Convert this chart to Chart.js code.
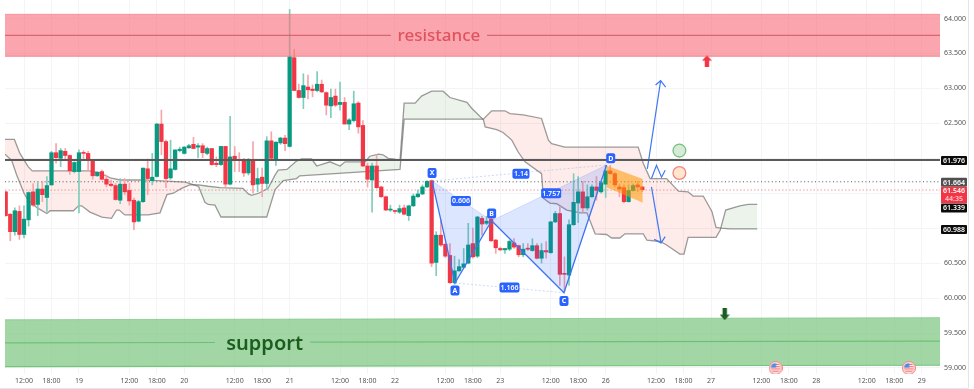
<!DOCTYPE html>
<html><head><meta charset="utf-8">
<style>html,body{margin:0;padding:0;background:#fff;overflow:hidden}#wrap{width:974px;height:389px}canvas{filter:blur(0.45px)}</style>
<script src="https://cdn.jsdelivr.net/npm/chart.js@4/dist/chart.umd.min.js"></script>
</head><body><div id="wrap"><canvas id="c" width="974" height="389"></canvas></div>
<script>
// ---------- candles (one per hour, WTI) ----------
const opens=[61.52,61.20,60.95,61.24,60.91,61.12,61.52,61.34,61.56,61.44,
61.62,62.08,62.00,62.10,62.04,61.81,61.81,62.08,62.07,61.97,
61.75,61.81,61.70,61.63,61.61,61.40,61.63,61.54,61.40,61.10,
61.38,61.85,61.68,61.74,62.49,62.24,61.72,61.84,62.11,62.07,
62.15,62.20,62.16,62.18,62.07,62.14,61.93,61.91,62.17,61.63,
62.03,61.98,61.98,61.79,61.98,61.63,61.73,61.64,62.25,61.99,
62.22,62.29,62.17,63.44,62.97,62.87,63.02,62.99,62.97,63.06,
62.94,62.75,62.89,62.77,62.80,62.49,62.54,62.79,62.47,61.89,
61.69,61.89,61.59,61.45,61.26,61.25,61.23,61.29,61.18,61.32,
61.45,61.49,61.59,61.68,60.51,60.90,60.77,60.61,60.22,60.39,
60.44,60.50,60.78,60.60,61.14,61.07,61.13,60.83,60.71,60.69,
60.70,60.79,60.75,60.62,60.71,60.68,60.75,60.57,60.68,60.65,
61.09,61.21,60.35,60.33,61.05,61.36,61.52,61.29,61.45,61.59,
61.52,61.63,61.82,61.78,61.59,61.58,61.38,61.54,61.62,61.59];
const highs=[61.53,61.21,61.29,61.32,61.32,61.52,61.64,61.67,61.67,61.74,
62.10,62.21,62.14,62.14,62.05,61.95,62.12,62.11,62.10,61.98,
61.81,61.83,61.76,61.69,61.64,61.71,61.71,61.64,61.43,61.40,
61.86,61.99,62.07,62.50,62.69,62.26,62.26,62.12,62.16,62.17,
62.20,62.30,62.21,62.21,62.16,62.14,62.02,62.17,62.17,62.60,
62.17,62.08,62.00,62.00,62.24,61.86,61.86,62.31,62.38,62.24,
62.30,62.33,64.13,63.56,63.06,63.21,63.19,63.05,63.24,63.12,
62.95,62.99,62.99,63.09,62.87,62.57,62.96,62.81,62.54,61.93,
61.93,62.05,61.60,61.46,61.33,61.26,61.33,61.33,61.33,61.49,
61.55,61.62,61.68,61.69,60.95,61.12,60.79,60.78,60.60,60.55,
60.71,61.07,61.00,61.17,61.17,61.17,61.14,60.84,60.73,60.71,
60.83,60.85,60.76,60.78,60.78,60.85,60.78,60.78,60.81,61.10,
61.24,61.31,60.59,61.12,61.78,61.74,61.67,61.62,61.62,61.74,
61.67,61.90,61.90,61.80,61.63,61.62,61.62,61.63,61.67,61.60];
const lows=[61.17,60.82,60.90,60.84,60.86,61.03,61.31,61.18,61.38,61.24,
61.61,61.93,61.88,61.98,61.77,61.79,61.22,61.98,61.83,61.70,
61.74,61.69,61.59,61.59,61.40,61.35,61.48,61.33,60.98,61.09,
61.37,61.48,61.62,61.73,62.05,61.58,61.70,61.83,62.09,62.06,
62.14,62.14,62.01,62.01,62.05,61.90,61.88,61.90,61.58,61.62,
61.81,61.81,61.74,61.76,61.50,61.52,61.45,61.55,61.98,61.90,
62.20,62.11,62.16,62.97,62.86,62.71,62.85,62.88,62.95,62.94,
62.62,62.58,62.74,62.69,62.49,62.41,62.52,62.36,61.88,61.59,
61.23,61.57,61.44,61.25,61.24,61.21,61.21,61.19,61.11,61.31,
61.44,61.48,61.58,60.45,60.32,60.74,60.58,60.21,60.20,60.38,
60.43,60.49,60.57,60.58,60.90,61.05,60.81,60.64,60.68,60.64,
60.68,60.71,60.59,60.59,60.68,60.67,60.56,60.50,60.57,60.64,
61.08,60.18,60.09,60.18,61.04,61.08,61.23,61.26,61.44,61.40,
61.50,61.44,61.77,61.59,61.45,61.36,61.37,61.53,61.52,61.52];
const closes=[61.18,60.95,61.25,60.91,61.13,61.51,61.33,61.56,61.48,61.61,
62.08,62.01,62.11,62.04,61.82,61.94,62.08,62.07,61.97,61.75,
61.80,61.70,61.63,61.61,61.41,61.63,61.52,61.39,61.09,61.38,
61.86,61.71,61.73,62.49,62.24,61.71,61.85,62.12,62.13,62.16,
62.18,62.14,62.18,62.08,62.14,61.91,61.91,62.17,61.63,62.02,
61.97,61.97,61.79,61.97,61.62,61.71,61.64,62.25,62.00,62.23,
62.29,62.21,63.45,62.97,62.87,63.04,62.98,62.97,63.06,62.95,
62.76,62.87,62.76,62.80,62.49,62.55,62.78,62.45,61.89,61.70,
61.89,61.58,61.45,61.26,61.27,61.24,61.28,61.20,61.32,61.46,
61.49,61.59,61.67,60.50,60.90,60.76,60.60,60.22,60.39,60.45,
60.49,60.76,60.59,61.16,61.06,61.10,60.82,60.72,60.69,60.71,
60.81,60.73,60.62,60.70,60.70,60.75,60.57,60.68,60.66,61.09,
61.21,60.34,60.34,61.05,61.37,61.52,61.29,61.45,61.59,61.54,
61.65,61.82,61.78,61.62,61.56,61.38,61.54,61.61,61.59,61.55];

// ---------- Ichimoku cloud vertices (hour position, price) ----------
const spanAHours=[-0.15,1.3,2.4,4,4.9,6.9,9,9.7,14.8,15.9,16.6,18.4,21,23.1,24.2,24.8,26,31.1,33.7,35.2,36.6,38.4,40.2,42.1,44.2,46.8,51.8,53,53.7,55.2,57.3,58.8,59.5,61.4,63.5,64.6,66.8,67.9,70.8,73,74.1,78.5,79.5,81.4,82.4,83.5,84.6,86.1,87,89.4,90.8,93,95.5,97,100.7,101.7,104.3,104.7,107.2,108.6,110.5,111.9,113.4,117,117.4,118.8,120.3,122.5,125.4,126.9,128.7,131.2,132.3,134.1,135.2,139.2,140,142.9,144.3,147.2,148.1,149,155.1,156,157.2,160.3,162.1,164.1];
const spanAPrices=[62.06,61.97,61.76,61.50,61.40,61.29,61.21,61.25,61.25,61.32,61.32,61.23,61.16,61.14,61.26,61.26,61.19,61.19,61.22,61.48,61.50,61.57,61.62,61.62,61.60,61.58,61.57,61.49,61.47,61.50,61.57,61.76,61.83,61.84,61.96,61.99,61.99,61.89,61.95,61.89,61.95,61.95,62.03,62.06,62.05,62.00,61.99,61.97,62.79,62.79,62.89,62.96,62.96,62.87,62.80,62.72,62.55,62.45,62.41,62.37,62.26,62.09,61.95,61.78,61.43,61.36,61.35,61.26,61.22,61.22,60.92,60.91,60.86,60.86,60.92,60.92,60.83,60.81,60.76,60.63,60.63,60.87,60.87,60.97,61.26,61.32,61.34,61.34];
const spanBHours=[-0.15,1.9,3.1,4.9,5.8,18.4,20.6,22.8,25,30,39.2,42.1,43.5,44.2,45.7,47,57,58.8,60.6,63.5,64.2,86.1,87,104.3,106.1,109,110.1,113,117,118.5,119.2,122.1,138.1,139.2,140.7,144.3,146.9,149,150.1,152.3,154.2,155.1,156.2,158.2,164.1];
const spanBPrices=[62.27,62.27,62.07,61.88,61.82,61.82,61.79,61.72,61.69,61.69,61.66,61.60,61.37,61.34,61.33,61.16,61.16,61.55,61.68,61.71,61.75,61.84,62.56,62.56,62.68,62.68,62.64,62.62,62.57,62.26,62.21,62.16,62.16,61.93,61.71,61.71,61.53,61.52,61.46,61.46,61.24,61.01,61.00,60.99,60.99];

// ---------- zones ----------
const chartStart=-0.15, chartEnd=204;
const resistanceTop=[64.06,64.06], resistanceBottom=[63.46,63.46], resistanceMid=[63.76,63.76];
const resistanceGapHours=[84.1,105.1];
const supportTop=[59.69,59.72], supportBottom=[59.02,59.04], supportMid=[59.36,59.385];
const supportGapHours=[45.7,66.5], supportGapPrices=[59.365,59.37];

// ---------- horizontal price levels ----------
const keyLevel=61.976, lastCloseLevel=61.664, currentLevel=61.546;

// ---------- harmonic pattern X A B C D ----------
const patternNames=['X','A','B','C','D'];
const patternHours=[93.1,98.1,106.1,121.9,131.2];
const patternPrices=[61.675,60.216,61.107,60.077,61.904];
const patternTagHours=[93.1,98.1,106.1,121.9,132.1];
const patternTagPrices=[61.79,60.11,61.21,59.96,62.00];
const ratioLabels=['1.14','0.606','1.757','1.166'];
const ratioHours=[112.5,99.4,119.1,110];
const ratioPrices=[61.78,61.39,61.50,60.15];

// ---------- forecast drawing ----------
const orangeHours=[131.2,139.1], orangeTop=[61.89,61.70], orangeBottom=[61.59,61.37];
const upArrowHours=[140.1,143], upArrowPrices=[61.85,63.11];
const upHeadHours=[141.9,143,144.1], upHeadPrices=[63.05,63.11,63.02];
const downArrowHours=[141,143.1], downArrowPrices=[61.59,60.79];
const downHeadHours=[141.6,143.1,144], downHeadPrices=[60.84,60.79,60.88];
const chevronHours=[141,142.1,143.2,144], chevronPrices=[61.71,61.90,61.73,61.83];
const circleHours=[147.1,147.1], circlePrices=[62.11,61.79];
const redArrowHour=153.1, redArrowPrice=63.39;
const greenArrowHour=157, greenArrowPrice=59.77;
const flagHours=[168.1,197.2], flagPrices=[59.0,59.0];

// ---------- axes ----------
const xTickHours=[4,10,16,27,33,39,50,56,62,73,79,85,96,102,108,119,125,131,142,148,154,165,171,177,188,194,200];
const xTickLabels=['12:00','18:00','19','12:00','18:00','20','12:00','18:00','21','12:00','18:00','22','12:00','18:00','23','12:00','18:00','26','12:00','18:00','27','12:00','18:00','28','12:00','18:00','29'];
const yTickValues=[59,59.5,60,60.5,61,61.5,62,62.5,63,63.5,64];
const yTickLabels=['59.000','59.500','60.000','60.500','','','','62.500','63.000','63.500','64.000'];

// ---------- right-hand price tags ----------
const tagLabels=['61.976','61.664','61.339','60.988'];
const tagPrices=[61.976,61.664,61.339,60.988];
const tagColors=['#0b0b0b','#4f4f4f','#0b0b0b','#0b0b0b'];
const tagShift=[0.5,0.5,3.5,0.5];
const currentTag=['61.546','44:35'];

// ---------- helpers ----------
const XY=(xs,ys)=>xs.map((x,i)=>({x,y:ys[i]}));
const GREEN='#089981',RED='#F23645',GREEN_W='#7fcdbb',RED_W='#f9a3ab';
const BLUE='#3f76f4',FONT='"Noto Sans","Open Sans",sans-serif';
const up=closes.map((c,i)=>c>=opens[i]);

function fatArrow(color,down){
  const c=document.createElement('canvas');c.width=10;c.height=12;
  const g=c.getContext('2d');g.fillStyle=color;
  if(down){g.translate(0,12);g.scale(1,-1);}
  g.beginPath();g.moveTo(5,0);g.lineTo(10,5.5);g.lineTo(7.2,5.5);g.lineTo(7.2,12);g.lineTo(2.8,12);g.lineTo(2.8,5.5);g.lineTo(0,5.5);g.closePath();g.fill();
  return c;
}
function flagIcon(){
  const c=document.createElement('canvas');c.width=14;c.height=14;
  const g=c.getContext('2d');
  g.beginPath();g.arc(7,7,6.6,0,7);g.fillStyle='#fbd0d0';g.fill();
  g.lineWidth=1;g.strokeStyle='#f78a8a';g.stroke();
  g.save();g.beginPath();g.arc(7,7,4.8,0,7);g.clip();
  g.fillStyle='#fff';g.fillRect(0,0,14,14);
  g.fillStyle='#f26b6b';for(let y=3;y<12;y+=2.2)g.fillRect(0,y,14,1.1);
  g.fillStyle='#4a8fe8';g.fillRect(2,2,5.5,4.6);
  g.restore();return c;
}
const line=(data,color,width,extra={})=>Object.assign({type:'line',data,borderColor:color,borderWidth:width,pointRadius:0,tension:0,fill:false,order:5,spanGaps:false,xAxisID:'x',yAxisID:'y'},extra);
const flat=v=>[{x:chartStart,y:v},{x:chartEnd,y:v}];

const datasets=[
 // zones (over the candles)
 line(XY([chartStart,chartEnd],resistanceTop),'rgba(240,110,120,.55)',1,{order:3,fill:{target:'+1',above:'rgba(249,112,125,.62)',below:'rgba(249,112,125,.62)'}}),
 line(XY([chartStart,chartEnd],resistanceBottom),'rgba(225,95,105,.65)',1.2,{order:3}),
 line([{x:chartStart,y:resistanceMid[0]},{x:resistanceGapHours[0],y:resistanceMid[0]},{x:resistanceGapHours[0]+.01,y:null},{x:resistanceGapHours[1],y:resistanceMid[1]},{x:chartEnd,y:resistanceMid[1]}],'rgba(205,75,85,.7)',1.2,{order:2}),
 line(XY([chartStart,chartEnd],supportTop),'rgba(110,190,120,.6)',1,{order:3,fill:{target:'+1',above:'rgba(105,190,110,.62)',below:'rgba(105,190,110,.62)'}}),
 line(XY([chartStart,chartEnd],supportBottom),'rgba(90,185,100,.8)',1.1,{order:3}),
 line([{x:chartStart,y:supportMid[0]},{x:supportGapHours[0],y:supportGapPrices[0]},{x:supportGapHours[0]+.01,y:null},{x:supportGapHours[1],y:supportGapPrices[1]},{x:chartEnd,y:supportMid[1]}],'rgba(100,190,110,.85)',1.1,{order:2}),
 // cloud
 line(XY(spanAHours,spanAPrices),'rgba(95,95,95,.62)',1.3,{order:20,fill:{target:'+1',above:'rgba(76,150,80,.115)',below:'rgba(242,80,70,.105)'}}),
 line(XY(spanBHours,spanBPrices),'rgba(95,95,95,.62)',1.3,{order:20}),
 // levels
 line(flat(keyLevel),'#5a5a5a',1.8,{order:1}),
 line(flat(lastCloseLevel),'#555',1,{order:16,borderDash:[1,2.6]}),
 line(flat(currentLevel),'rgba(242,54,69,.5)',1,{order:16,borderDash:[1.5,2]}),
 // candle wicks and bodies
 {type:'bar',grouped:false,order:12,barThickness:1,minBarLength:1,data:highs.map((h,i)=>({x:i,y:[lows[i],h]})),backgroundColor:up.map(u=>u?GREEN_W:RED_W)},
 {type:'bar',grouped:false,order:10,barThickness:3.6,minBarLength:1,data:opens.map((o,i)=>({x:i,y:[o,closes[i]]})),backgroundColor:up.map(u=>u?GREEN:RED)},
 // harmonic pattern
 line(XY([patternHours[0],patternHours[2]],[patternPrices[0],patternPrices[2]]),'rgba(63,118,244,.18)',1,{order:6,fill:{target:'+1',above:'rgba(41,98,255,.155)',below:'rgba(41,98,255,.155)'}}),
 line(XY(patternHours.slice(0,3),patternPrices.slice(0,3)),BLUE,1.3,{order:6}),
 line(XY([patternHours[2],patternHours[4]],[patternPrices[2],patternPrices[4]]),'rgba(63,118,244,.18)',1,{order:6,fill:{target:'+1',above:'rgba(41,98,255,.155)',below:'rgba(41,98,255,.155)'}}),
 line(XY(patternHours.slice(2),patternPrices.slice(2)),BLUE,1.3,{order:6}),
 line(XY([patternHours[0],patternHours[4]],[patternPrices[0],patternPrices[4]]),'rgba(63,118,244,.28)',1,{order:6,borderDash:[2,2]}),
 line(XY([patternHours[1],patternHours[3]],[patternPrices[1],patternPrices[3]]),'rgba(63,118,244,.28)',1,{order:6,borderDash:[2,2]}),
 // orange box
 line(XY(orangeHours,orangeTop),'rgba(255,160,40,.3)',1,{order:7,fill:{target:'+1',above:'rgba(255,152,0,.56)',below:'rgba(255,152,0,.56)'}}),
 line(XY(orangeHours,orangeBottom),'rgba(255,160,40,.3)',1,{order:7}),
 // arrows
 line(XY(upArrowHours,upArrowPrices),BLUE,1.2,{order:4}),
 line(XY(upHeadHours,upHeadPrices),BLUE,1.2,{order:4}),
 line(XY(downArrowHours,downArrowPrices),BLUE,1.2,{order:4}),
 line(XY(downHeadHours,downHeadPrices),BLUE,1.2,{order:4}),
 line(XY(chevronHours,chevronPrices),BLUE,1.2,{order:4}),
 // circles and icons
 line(XY(circleHours.slice(0,1),circlePrices.slice(0,1)),'#6fbf77',1.3,{order:4,showLine:false,pointRadius:6.4,pointBackgroundColor:'#d6ebd7',pointBorderColor:'#77c07e',pointBorderWidth:1.3}),
 line(XY(circleHours.slice(1),circlePrices.slice(1)),'#f77f7f',1.3,{order:4,showLine:false,pointRadius:6.4,pointBackgroundColor:'#ffe6cc',pointBorderColor:'#f48484',pointBorderWidth:1.3}),
 line([{x:redArrowHour,y:redArrowPrice}],RED,0,{order:4,showLine:false,pointStyle:fatArrow('#f23645',false),pointRadius:6}),
 line([{x:greenArrowHour,y:greenArrowPrice}],'#1b5e20',0,{order:1,showLine:false,pointStyle:fatArrow('#1b5e20',true),pointRadius:6}),
 line(XY(flagHours,flagPrices),'#f88',0,{order:1,showLine:false,pointStyle:flagIcon(),pointRadius:7}),
];

function roundTag(g,cx,cy,w,h,r,color){
  g.fillStyle=color;g.beginPath();g.roundRect(cx-w/2,cy-h/2,w,h,r);g.fill();
}
const overlay={id:'overlay',afterDraw(ch){
  const g=ch.ctx,X=ch.scales.x,Y=ch.scales.y;
  g.save();
  // zone titles
  g.textAlign='center';g.textBaseline='middle';
  g.font='500 17px '+FONT;g.fillStyle='#e0535e';
  g.fillText('resistance',X.getPixelForValue((resistanceGapHours[0]+resistanceGapHours[1])/2),Y.getPixelForValue(resistanceMid[0])+1);
  g.font='600 20px '+FONT;g.fillStyle='#1b5e20';
  g.fillText('support',X.getPixelForValue((supportGapHours[0]+supportGapHours[1])/2)+2,Y.getPixelForValue(supportGapPrices[0])+1.5);
  // pattern tags
  g.font='bold 7px '+FONT;
  patternNames.forEach((n,i)=>{
    const x=X.getPixelForValue(patternTagHours[i]),y=Y.getPixelForValue(patternTagPrices[i]);
    roundTag(g,x,y,9,10,2,'#2962ff');g.fillStyle='#fff';g.fillText(n,x,y+.3);
  });
  g.font='600 7px '+FONT;
  ratioLabels.forEach((n,i)=>{
    const x=X.getPixelForValue(ratioHours[i]),y=Y.getPixelForValue(ratioPrices[i]);
    roundTag(g,x,y,i==0?17:20,10,2,'#2962ff');g.fillStyle='#fff';g.fillText(n,x,y+.3);
  });
  // price tags
  g.font='600 7px '+FONT;
  const tagX=954,tagW=26;
  tagLabels.forEach((n,i)=>{
    const y=Y.getPixelForValue(tagPrices[i])+tagShift[i];
    roundTag(g,tagX,y,tagW,9,1,tagColors[i]);g.fillStyle='#fff';g.fillText(n,tagX,y+.3);
  });
  const yc=Y.getPixelForValue(currentLevel)+5;
  roundTag(g,tagX,yc,tagW,16.5,0,'#f23645');
  g.fillStyle='#fff';g.fillText(currentTag[0],tagX,yc-3.6);
  g.fillStyle='#ffc6cb';g.fillText(currentTag[1],tagX,yc+3.8);
  // outer frame
  g.strokeStyle='#e3e5ea';g.lineWidth=1;
  g.beginPath();g.moveTo(968.5,0);g.lineTo(968.5,388.5);g.lineTo(0,388.5);g.stroke();
  g.restore();
}};
const noOverhang=s=>{s.paddingLeft=0;s.paddingRight=0;s.paddingTop=0;s.paddingBottom=0;};

new Chart(document.getElementById('c'),{
 type:'bar',
 data:{datasets},
 plugins:[overlay],
 options:{
  responsive:false,animation:false,events:[],
  layout:{autoPadding:false,padding:{left:5,right:6,top:0,bottom:1}},
  plugins:{legend:{display:false},tooltip:{enabled:false}},
  scales:{
   x:{type:'linear',position:'bottom',min:chartStart,max:chartEnd,offset:false,
      afterFit(s){s.height=14;noOverhang(s);},
      afterBuildTicks(s){s.ticks=xTickHours.map(v=>({value:v}));},
      grid:{offset:false,color:'#f3f4f6',lineWidth:1,drawTicks:false},border:{display:false},
      ticks:{autoSkip:false,maxRotation:0,minRotation:0,padding:3,color:'#555',font:{family:FONT,size:7},
        callback(v){const k=xTickHours.indexOf(v);return k<0?'':xTickLabels[k];}}},
   y:{type:'linear',position:'right',min:58.914,max:64.265,
      afterFit(s){s.width=28;noOverhang(s);},
      afterBuildTicks(s){s.ticks=yTickValues.map(v=>({value:v}));},
      grid:{color:'#f3f4f6',lineWidth:1,drawTicks:false},border:{display:false},
      ticks:{autoSkip:false,padding:4,color:'#555',font:{family:FONT,size:7},
        callback(v){const k=yTickValues.indexOf(v);return k<0?'':yTickLabels[k];}}}
  }
 }
});
</script></body></html>
